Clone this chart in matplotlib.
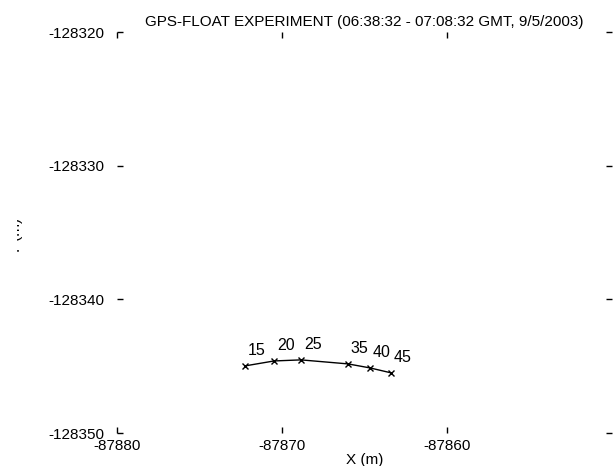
import matplotlib
matplotlib.use("Agg")
import matplotlib.pyplot as plt
from matplotlib.transforms import Bbox

plt.rcParams['font.family'] = ['Liberation Sans', 'DejaVu Sans']

# Data
x_vals = [-87872.24, -87870.48, -87868.85, -87866.0, -87864.67, -87863.39]
y_vals = [-128344.98, -128344.61, -128344.53, -128344.83, -128345.13, -128345.50]
labels = ["15", "20", "25", "35", "40", "45"]
xticks = [-87880, -87870, -87860]
xticklabels = ["-87880", "-87870", "-87860"]
yticks = [-128350, -128340, -128330, -128320]
yticklabels = ["-128350", "-128340", "-128330", "-128320"]
title = "GPS-FLOAT EXPERIMENT (06:38:32 - 07:08:32 GMT, 9/5/2003)"

fig = plt.figure(figsize=(6.16, 4.66), dpi=100)
ax = fig.add_axes([117/616, 1-433/466, (612-117)/616, (433-32)/466])

ax.plot(x_vals, y_vals, color='black', lw=1.0, marker='x', ms=5, mew=1.0)
for xv, yv, lab in zip(x_vals, y_vals, labels):
    ax.annotate(lab, (xv, yv), xytext=(2, 6), textcoords='offset points',
                fontsize=11.5, ha='left', va='bottom')

ax.set_xlim(-87880, -87850)
ax.set_ylim(-128350, -128320)
ax.set_xticks(xticks)
ax.set_xticklabels(xticklabels)
ax.set_yticks(yticks)
ax.set_yticklabels(yticklabels)
for s in ax.spines.values():
    s.set_visible(False)
ax.tick_params(direction='in', length=4.5, width=1.0, top=True, right=True,
               labelsize=11)
ax.tick_params(axis='y', pad=9)
ax.tick_params(axis='x', pad=4)
ax.set_xlabel("X (m)", fontsize=11, labelpad=0)
ax.set_title(title, fontsize=11, pad=4)

t = fig.text(16/616, 230/466, "Y (m)", rotation=90, fontsize=11,
             ha='center', va='center')
t.set_clip_box(Bbox.from_extents(17, 0, 40, 466))
t.set_clip_on(True)

fig.savefig("out.png", dpi=100, facecolor='white')
